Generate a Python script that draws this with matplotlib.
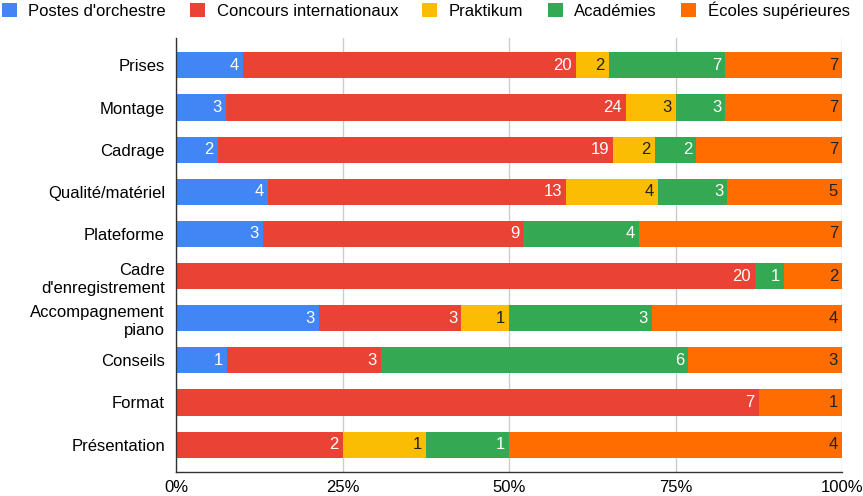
import matplotlib
matplotlib.use("Agg")
import matplotlib.pyplot as plt
from matplotlib.patches import Patch
import numpy as np

plt.rcParams['font.family'] = ['Liberation Sans', 'DejaVu Sans']

categories = ["Prises", "Montage", "Cadrage", "Qualité/matériel", "Plateforme",
              "Cadre\nd'enregistrement", "Accompagnement\npiano", "Conseils",
              "Format", "Présentation"]
series_names = ["Postes d'orchestre", "Concours internationaux", "Praktikum",
                "Académies", "Écoles supérieures"]
postes = [4, 3, 2, 4, 3, 0, 3, 1, 0, 0]
concours = [20, 24, 19, 13, 9, 20, 3, 3, 7, 2]
praktikum = [2, 3, 2, 4, 0, 0, 1, 0, 0, 1]
academies = [7, 3, 2, 3, 4, 1, 3, 6, 0, 1]
ecoles = [7, 7, 7, 5, 7, 2, 4, 3, 1, 4]
xtick_labels = ["0%", "25%", "50%", "75%", "100%"]

colors = ["#4285F4", "#EA4335", "#FBBC04", "#34A853", "#FF6D01"]
text_colors = ["white", "white", "#222222", "white", "#222222"]

data = np.array([postes, concours, praktikum, academies, ecoles], dtype=float)
totals = data.sum(axis=0)
pct = data / totals

fig = plt.figure(figsize=(8.63, 4.96), dpi=100)
ax = fig.add_axes([176/863, 1 - 472/496, (842-176)/863, (472-38)/496])

y = np.arange(len(categories))
left = np.zeros(len(categories))
for i, name in enumerate(series_names):
    ax.barh(y, pct[i], left=left, height=0.62, color=colors[i], label=name, zorder=2)
    for j in range(len(categories)):
        if data[i, j] > 0:
            ax.text(left[j] + pct[i, j] - 0.006, y[j], f"{int(data[i, j])}",
                    ha='right', va='center', color=text_colors[i], fontsize=12, zorder=3)
    left += pct[i]

ax.set_xlim(0, 1)
ax.set_ylim(len(categories) - 1 + 0.65, -0.65)
ax.set_yticks(y)
ax.set_yticklabels(categories, fontsize=12, linespacing=1.3)
ax.set_xticks([0, 0.25, 0.5, 0.75, 1.0])
ax.set_xticklabels(xtick_labels, fontsize=12)
ax.tick_params(axis='y', length=0, pad=8)
ax.tick_params(axis='x', length=0, pad=6)
ax.grid(axis='x', color='#cccccc', linewidth=1, zorder=0)
for s in ['top', 'right']:
    ax.spines[s].set_visible(False)
for s in ['left', 'bottom']:
    ax.spines[s].set_color('#333333')
    ax.spines[s].set_linewidth(1)
    ax.spines[s].set_zorder(4)

handles = [Patch(facecolor=c, edgecolor='none') for c in colors]
fig.legend(handles, series_names, loc='upper left', bbox_to_anchor=(0.0, 1.0),
           ncol=5, frameon=False, fontsize=12, handlelength=0.9, handleheight=0.9,
           handletextpad=0.7, columnspacing=1.45, borderaxespad=0.0, borderpad=0.1)

fig.savefig("out.png", dpi=100)
